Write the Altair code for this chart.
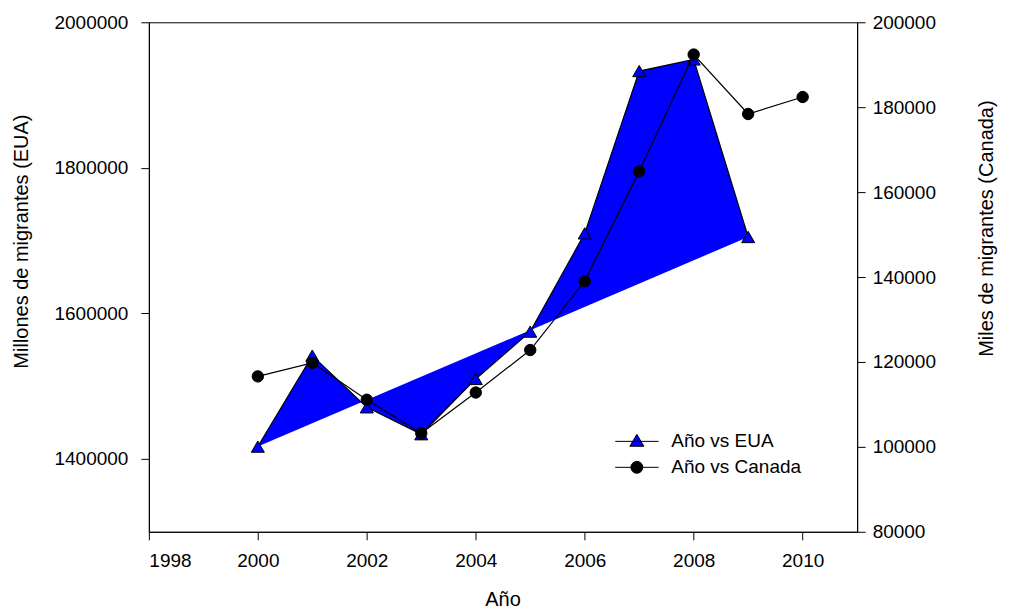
import altair as alt
import pandas as pd

# ---- data ----
anios_eua = [2000, 2001, 2002, 2003, 2004, 2005, 2006, 2007, 2008, 2009]
eua = [1417000, 1542000, 1471000, 1434000, 1510000, 1575000, 1710000, 1933000, 1949000, 1705000]

anios_canada = [2000, 2001, 2002, 2003, 2004, 2005, 2006, 2007, 2008, 2009, 2010]
canada = [116600, 119800, 111100, 103200, 112800, 122800, 139000, 164900, 192400, 178400, 182400]

series = ["Año vs EUA", "Año vs Canada"]
x_ticks = [1998, 2000, 2002, 2004, 2006, 2008, 2010]
left_ticks = [1400000, 1600000, 1800000, 2000000]
right_ticks = [80000, 100000, 120000, 140000, 160000, 180000, 200000]

df_eua = pd.DataFrame({"anio": anios_eua, "valor": eua})
df_can = pd.DataFrame({"anio": anios_canada, "valor": canada})
df_leg = pd.DataFrame({"serie": series})

FONT = "Liberation Sans"
BLUE = "#0000ff"

x = alt.X(
    "anio:Q",
    scale=alt.Scale(domain=[1998, 2011], nice=False, zero=False),
    axis=alt.Axis(title="Año", values=x_ticks, format="d", labelPadding=12,
                  titleX=354, titleY=68, titleBaseline="middle"),
)

y_left = alt.Y(
    "valor:Q",
    scale=alt.Scale(domain=[1300000, 2000000], nice=False, zero=False),
    axis=alt.Axis(orient="left", title="Millones de migrantes (EUA)", values=left_ticks,
                  format="d", labelPadding=13, titleAngle=270, titleX=-127, titleY=219,
                  titleBaseline="middle", titleAlign="center"),
)

y_right = alt.Y(
    "valor:Q",
    scale=alt.Scale(domain=[80000, 200000], nice=False, zero=False),
    axis=alt.Axis(orient="right", title="Miles de migrantes (Canada)", values=right_ticks,
                  format="d", labelPadding=7, titleAngle=270, titleX=129, titleY=206,
                  titleBaseline="middle", titleAlign="center"),
)

poly = alt.Chart(df_eua).mark_line(fill=BLUE, stroke="black", strokeWidth=1.2).encode(
    x=x, y=y_left, order="anio:Q"
)
tri = alt.Chart(df_eua).mark_point(
    shape="triangle-up", filled=True, fill=BLUE, stroke="black", strokeWidth=1, size=170, opacity=1
).encode(x=x, y=y_left)

cline = alt.Chart(df_can).mark_line(color="black", strokeWidth=1.2).encode(x=x, y=y_right)
cpts = alt.Chart(df_can).mark_point(
    shape="circle", filled=True, fill="black", stroke="black", strokeWidth=1, size=130, opacity=1
).encode(x=x, y=y_right)

path_tri = "M-3.1,0H3.1M0,-1L1,0.7L-1,0.7Z"
path_circ = "M-3.1,0H3.1M0.85,0A0.85,0.85,0,1,1,-0.85,0A0.85,0.85,0,1,1,0.85,0Z"

legend = alt.Legend(
    title=None, orient="none", legendX=479, legendY=410, labelOffset=25,
    symbolSize=196, rowPadding=6, padding=0, labelFont=FONT, labelFontSize=19,
    labelColor="black", symbolStrokeColor="black", symbolStrokeWidth=1,
)

leg = alt.Chart(df_leg).mark_point(
    size=0, filled=True, strokeWidth=1, opacity=1
).encode(
    shape=alt.Shape("serie:N", scale=alt.Scale(domain=series, range=[path_tri, path_circ]), legend=legend),
    fill=alt.Fill("serie:N", scale=alt.Scale(domain=series, range=[BLUE, "black"]), legend=legend),
    stroke=alt.Stroke("serie:N", scale=alt.Scale(domain=series, range=["black", "black"]), legend=legend),
)

chart = (
    alt.layer(alt.layer(poly, tri), alt.layer(cline, cpts), leg)
    .resolve_scale(y="independent")
    .properties(
        width=709,
        height=510,
        autosize=alt.AutoSizeParams(type="none"),
        padding={"left": 141, "top": 14, "right": 145, "bottom": 78},
    )
    .configure_view(stroke="black", strokeWidth=1)
    .configure_axis(
        grid=False, domainColor="black", domainWidth=1, tickColor="black", tickWidth=1,
        tickSize=8, labelFont=FONT, labelFontSize=19, labelColor="black",
        titleFont=FONT, titleFontSize=20, titleFontWeight="normal", titleColor="black",
    )
)

chart.save("out.html", embed_options={"renderer": "svg", "actions": False})
